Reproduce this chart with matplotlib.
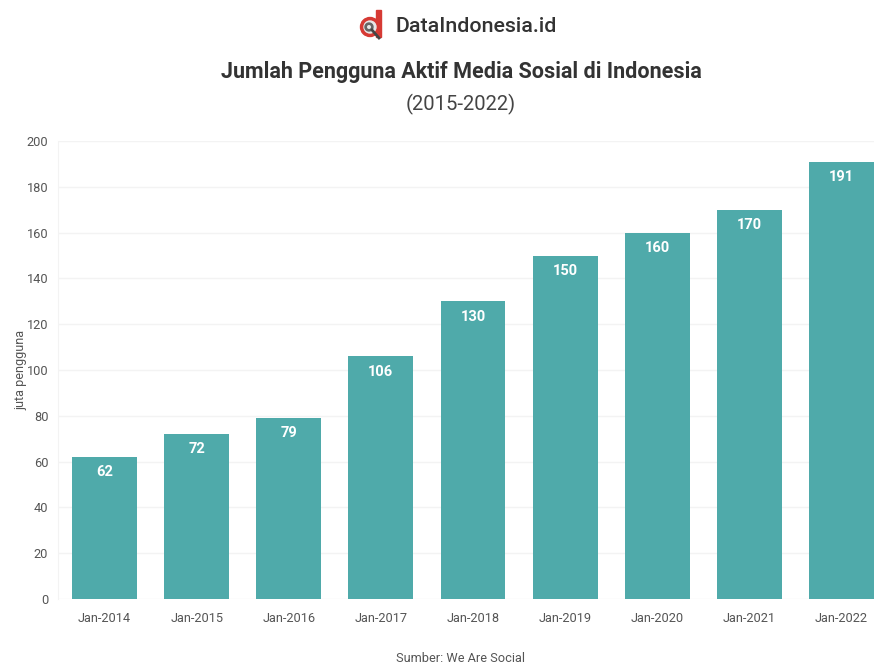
import matplotlib
matplotlib.use("Agg")
import matplotlib.pyplot as plt
from matplotlib.patches import Circle, Rectangle, Wedge
from matplotlib.lines import Line2D

months = ["Jan-2014", "Jan-2015", "Jan-2016", "Jan-2017", "Jan-2018",
          "Jan-2019", "Jan-2020", "Jan-2021", "Jan-2022"]
users = [62, 72, 79, 106, 130, 150, 160, 170, 191]
y_ticks = [0, 20, 40, 60, 80, 100, 120, 140, 160, 180, 200]

W, H = 874, 666
BAR = "#4faaaa"
plt.rcParams["font.family"] = ["Roboto", "DejaVu Sans"]

fig = plt.figure(figsize=(W / 100, H / 100), dpi=100, facecolor="white")
ax = fig.add_axes([58 / W, 1 - 599 / H, (W - 58) / W, (599 - 141) / H])

ax.bar(range(len(users)), users, width=0.705, color=BAR, zorder=3)
ax.set_xlim(-0.505, 8.353)
ax.set_ylim(0, 200)
ax.set_xticks(range(len(months)), months)
ax.set_yticks(y_ticks)
ax.tick_params(axis="both", length=0, labelsize=9.2, labelcolor="#555555")
ax.tick_params(axis="x", pad=9)
ax.tick_params(axis="y", pad=7)
ax.grid(axis="y", color="#f3f3f3", lw=1, zorder=0)
for name, spine in ax.spines.items():
    spine.set_visible(name == "left")
ax.spines["left"].set_color("#f3f3f3")
ax.set_ylabel("juta pengguna", fontsize=9.2, color="#555555")
ax.yaxis.set_label_coords(-31 / (W - 58), 0.5)

for i, v in enumerate(users):
    ax.annotate(str(v), (i, v), xytext=(0, -11), textcoords="offset points",
                ha="center", va="center", color="white",
                fontsize=10.5, fontweight="bold", zorder=4)

# Header and source line
fig.text(476 / W, 1 - 27 / H, "DataIndonesia.id", ha="center", va="center",
         fontsize=15.4, fontweight="medium", color="#333333")
fig.text(461 / W, 1 - 72 / H, "Jumlah Pengguna Aktif Media Sosial di Indonesia",
         ha="center", va="center", fontsize=15.5, fontweight="bold", color="#333333")
fig.text(461 / W, 1 - 104 / H, "(2015-2022)", ha="center", va="center",
         fontsize=14.6, fontweight="normal", color="#444444")
fig.text(461 / W, 1 - 659 / H, "Sumber: We Are Social", ha="center", va="center",
         fontsize=9.2, color="#555555")

# Brand mark: a red "d" holding a magnifying glass, in pixel coordinates
logo = fig.add_axes([0, 0, 1, 1], facecolor="none", zorder=5)
logo.set_xlim(0, W)
logo.set_ylim(H, 0)
logo.axis("off")
logo.add_patch(Rectangle((376, 10), 5, 27, color="#d63a34"))
logo.add_patch(Circle((370, 27), 9.5, color="#d63a34"))
logo.add_patch(Circle((370, 27), 6, color="#e8e8e8"))
logo.add_patch(Wedge((369, 27), 4, 0, 360, width=1.3, color="#666666"))
logo.add_line(Line2D([372, 379], [30, 38], color="#444444", lw=2))

fig.savefig("out.png", dpi=100, facecolor="white")
